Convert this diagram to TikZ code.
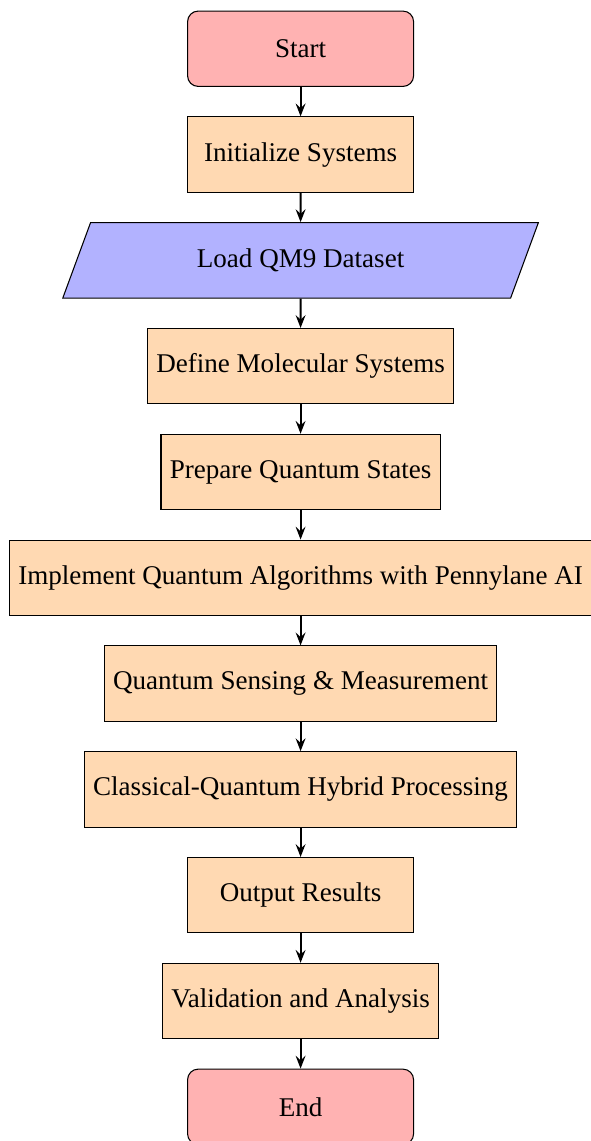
\documentclass[tikz,border=0pt]{standalone}
\usepackage{fontspec}
\setmainfont{Liberation Serif}
\usetikzlibrary{shapes.geometric,arrows.meta}
\begin{document}
\begin{tikzpicture}[
  every node/.style={font=\fontsize{10.22}{12.3}\selectfont},
  startstop/.style={rectangle, rounded corners, minimum width=3cm, minimum height=1cm, text centered, draw=black, fill=red!30},
  io/.style={trapezium, trapezium left angle=70, trapezium right angle=110, minimum width=6.37cm, minimum height=1cm, text centered, draw=black, fill=blue!30, trapezium stretches=true},
  process/.style={rectangle, minimum width=3cm, minimum height=1cm, text centered, draw=black, fill=orange!30},
  arrow/.style={thick, -{Stealth[length=1.7mm,width=1.3mm,inset=0.6mm]}}
]
\useasboundingbox (0,0) rectangle (7.845,-15.146);
\def\cx{3.99}
\node[startstop] (start) at (\cx,-0.647) {Start};
\node[process] (init) at (\cx,-2.0515) {Initialize Systems};
\node[io] (load) at (\cx,-3.456) {Load QM9 Dataset};
\node[process] (define) at (\cx,-4.8605) {Define Molecular Systems};
\node[process] (prep) at (\cx,-6.265) {Prepare Quantum States};
\node[process] (impl) at (\cx,-7.6695) {Implement Quantum Algorithms with Pennylane AI};
\node[process] (sense) at (\cx,-9.074) {Quantum Sensing \& Measurement};
\node[process] (hybrid) at (\cx,-10.4785) {Classical-Quantum Hybrid Processing};
\node[process] (out) at (\cx,-11.883) {Output Results};
\node[process] (valid) at (\cx,-13.2875) {Validation and Analysis};
\node[startstop] (stop) at (\cx,-14.692) {End};
\draw[arrow] (start) -- (init);
\draw[arrow] (init) -- (load);
\draw[arrow] (load) -- (define);
\draw[arrow] (define) -- (prep);
\draw[arrow] (prep) -- (impl);
\draw[arrow] (impl) -- (sense);
\draw[arrow] (sense) -- (hybrid);
\draw[arrow] (hybrid) -- (out);
\draw[arrow] (out) -- (valid);
\draw[arrow] (valid) -- (stop);
\end{tikzpicture}
\end{document}
